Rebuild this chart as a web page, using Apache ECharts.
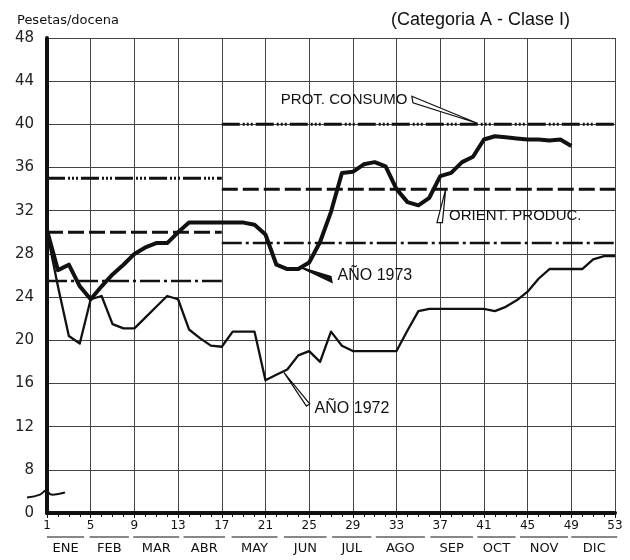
<!DOCTYPE html>
<html>
<head>
<meta charset="UTF-8">
<title>Precios huevos - Categoria A Clase I</title>
<script src="https://cdn.jsdelivr.net/npm/echarts@6.0.0/dist/echarts.min.js"></script>
<style>
  html, body {margin: 0; padding: 0; background: #fff;}
  #chart {width: 630px; height: 560px;}
</style>
</head>
<body>
<div id="chart"></div>
<script>
// precios semanales (pesetas/docena), semana 1..53
const ano1972 = [30.0, 25.0, 20.4, 19.7, 23.8, 24.1, 21.5, 21.1, 21.1, 22.1,
                 23.1, 24.1, 23.8, 21.0, 20.2, 19.5, 19.4, 20.8, 20.8, 20.8,
                 16.3, 16.8, 17.3, 18.6, 19.0, 18.0, 20.8, 19.5, 19.0, 19.0,
                 19.0, 19.0, 19.0, 20.9, 22.7, 22.9, 22.9, 22.9, 22.9, 22.9,
                 22.9, 22.7, 23.1, 23.7, 24.5, 25.7, 26.6, 26.6, 26.6, 26.6,
                 27.5, 27.8, 27.8];
const ano1973 = [30.2, 26.5, 27.0, 25.0, 23.8, 25.0, 26.1, 27.0, 28.0, 28.6,
                 29.0, 29.0, 30.0, 30.9, 30.9, 30.9, 30.9, 30.9, 30.9, 30.7,
                 29.8, 27.0, 26.6, 26.6, 27.2, 29.1, 31.9, 35.5, 35.6, 36.3,
                 36.5, 36.1, 34.0, 32.8, 32.5, 33.2, 35.2, 35.5, 36.5, 37.0,
                 38.6, 38.9, 38.8, 38.7, 38.6, 38.6, 38.5, 38.6, 38.0];

// precios de referencia por tramo de semanas
const tramos = [[1, 17], [17, 53]];
const protConsumo = [35, 40];
const orientProduc = [30, 34];
const otroPrecio = [25.5, 29];

const meses = ['ENE', 'FEB', 'MAR', 'ABR', 'MAY', 'JUN', 'JUL', 'AGO', 'SEP', 'OCT', 'NOV', 'DIC'];
// extension de cada mes en semanas (para la raya sobre el nombre)
const mesSpan = [[1, 4.4], [4.9, 8.5], [8.9, 13.1], [13.5, 17.3], [17.9, 22.1], [22.7, 26.6],
                 [27.1, 30.7], [31.1, 35.6], [36.1, 40.0], [40.4, 43.9], [44.3, 48.7], [49.0, 53.2]];

const INK = '#111';
const chart = echarts.init(document.getElementById('chart'));

const refSeries = (name, values, dash, width) => tramos.map((t, i) => ({
    name: name,
    type: 'line',
    symbol: 'none',
    silent: true,
    data: [[t[0], values[i]], [t[1], values[i]]],
    lineStyle: { color: INK, width: width, type: dash }
}));

chart.setOption({
    animation: false,
    backgroundColor: '#fff',
    title: [
        { text: 'Pesetas/docena', left: 12, top: 9,
          textStyle: { fontFamily: 'DejaVu Sans', fontSize: 13, fontWeight: 'normal', color: INK } },
        { text: '(Categoria A - Clase I)', left: 386, top: 6,
          textStyle: { fontFamily: 'Liberation Sans', fontSize: 18, fontWeight: 'normal', color: INK } }
    ],
    grid: { left: 47, right: 15, top: 38, bottom: 47 },
    xAxis: {
        type: 'value', min: 1, max: 53, interval: 4,
        axisLine: { show: true, onZero: false, lineStyle: { color: INK, width: 4 } },
        axisTick: { show: true, length: 5, lineStyle: { color: INK, width: 1 } },
        minorTick: { show: true, splitNumber: 4, length: 4, lineStyle: { color: INK } },
        axisLabel: { margin: 7, fontFamily: 'DejaVu Sans', fontSize: 12, color: INK },
        splitLine: { show: true, lineStyle: { color: '#444', width: 1 } }
    },
    yAxis: {
        type: 'value', min: 4, max: 48, interval: 4,
        axisLine: { show: true, onZero: false, lineStyle: { color: INK, width: 4 } },
        axisTick: { show: false },
        axisLabel: { margin: 13, fontFamily: 'DejaVu Sans', fontSize: 15, color: '#222',
                     formatter: v => (v === 4 ? '0' : String(v)) },
        splitLine: { show: true, lineStyle: { color: '#444', width: 1 } }
    },
    series: [
        ...refSeries('PROT. CONSUMO', protConsumo, [18, 3, 2, 2, 2, 2, 2, 3], 3),
        ...refSeries('ORIENT. PRODUC.', orientProduc, [16, 5], 3),
        ...refSeries('otro', otroPrecio, [20, 4, 3, 4], 2.5),
        {
            name: 'AÑO 1972', type: 'line', symbol: 'none',
            data: ano1972.map((v, i) => [i + 1, v]),
            lineStyle: { color: INK, width: 2.3, join: 'round' }
        },
        {
            name: 'AÑO 1973', type: 'line', symbol: 'none',
            data: ano1973.map((v, i) => [i + 1, v]),
            lineStyle: { color: INK, width: 4, join: 'round' }
        }
    ]
});

// anotaciones, colocadas en coordenadas de datos
const P = (w, v) => chart.convertToPixel({ gridIndex: 0 }, [w, v]);
const g = [];
const txt = (pt, s, size, align) => ({
    type: 'text', x: pt[0], y: pt[1],
    style: { text: s, fill: INK, font: size + 'px "Liberation Sans"', align: align || 'left', verticalAlign: 'middle' }
});
const wedge = (pts, fill) => ({
    type: 'polygon', shape: { points: pts },
    style: { fill: fill ? INK : '#fff', stroke: INK, lineWidth: 1.2 }
});

// meses con raya encima
const axisY = P(1, 4)[1];
meses.forEach((m, i) => {
    const a = P(mesSpan[i][0], 4)[0], b = P(mesSpan[i][1], 4)[0];
    g.push({ type: 'line', shape: { x1: a, y1: axisY + 24, x2: b, y2: axisY + 24 },
             style: { stroke: INK, lineWidth: 1.2 } });
    g.push({ type: 'text', x: (a + b) / 2, y: axisY + 36,
             style: { text: m, fill: INK, font: '13px "DejaVu Sans"', align: 'center', verticalAlign: 'middle' } });
});

// corte del eje
const brk = P(1, 5.8);
g.push({ type: 'polyline', shape: { smooth: 0.4, points: [
    [brk[0] - 20, brk[1] + 4], [brk[0] - 7, brk[1] + 1], [brk[0] - 1, brk[1] - 3],
    [brk[0] + 4, brk[1] + 1], [brk[0] + 18, brk[1] - 1]] },
    style: { stroke: INK, lineWidth: 2, fill: null } });

// PROT. CONSUMO
g.push(txt(P(34.0, 42.3), 'PROT. CONSUMO', 15, 'right'));
g.push(wedge([P(34.4, 42.6), P(40.4, 40.1), P(34.5, 42.0)], false));
// ORIENT. PRODUC.
g.push(txt(P(37.8, 31.5), 'ORIENT. PRODUC.', 15));
g.push(wedge([P(37.5, 34.0), P(37.2, 30.9), P(36.7, 30.9)], false));
// AÑO 1973
g.push(wedge([P(24.1, 26.8), P(27.0, 25.9), P(27.1, 25.35)], true));
g.push(txt(P(27.6, 25.98), 'AÑO 1973', 16));
// AÑO 1972
g.push(wedge([P(22.7, 17.0), P(25.05, 14.1), P(24.75, 13.9)], false));
g.push(txt(P(25.5, 13.65), 'AÑO 1972', 16));

chart.setOption({ graphic: g });
</script>
</body>
</html>
